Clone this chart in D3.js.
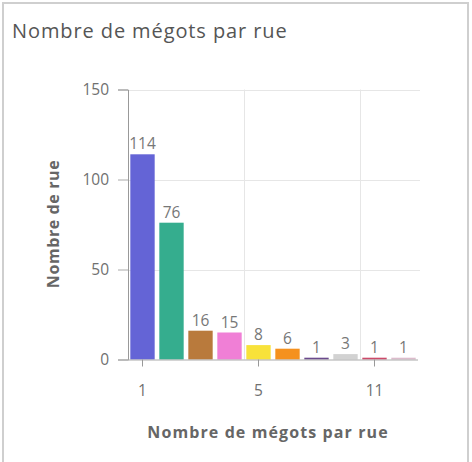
<!DOCTYPE html>
<html>
<head>
<meta charset="utf-8">
<script src="https://cdn.jsdelivr.net/npm/d3@7"></script>
<style>
  html, body { margin: 0; padding: 0; background: #fff; }
  svg { display: block; font-family: "Open Sans", sans-serif; }
</style>
</head>
<body>
<svg id="chart"></svg>
<script>
// valeurs
const categories = ['1', '2', '3', '4', '5', '6', '7', '8', '11', '12'];
const counts = [114, 76, 16, 15, 8, 6, 1, 3, 1, 1];
const barColors = ['#6464d6', '#35ad8e', '#b97a3c', '#f07fd6', '#f8e23a', '#f5911e', '#6b4a8c', '#d2d2d2', '#cc4a6a', '#dcbccc'];
const xTickLabels = ['1', '5', '11'];
const yTicks = [0, 50, 100, 150];

const width = 472, height = 462;
const margin = {left: 128, right: 54, top: 89.5, bottom: 102.5};
const font = '"Open Sans", sans-serif';

const svg = d3.select('#chart')
    .attr('width', width)
    .attr('height', height);

// cadre
svg.append('rect')
    .attr('x', 3).attr('y', 3)
    .attr('width', 465).attr('height', 462)
    .attr('fill', 'none')
    .attr('stroke', '#cfcfcf')
    .attr('stroke-width', 2);

svg.append('text')
    .attr('x', 12).attr('y', 38)
    .attr('font-size', 20)
    .attr('letter-spacing', 0.9)
    .attr('fill', '#555')
    .text('Nombre de mégots par rue');

const data = categories.map((c, i) => ({cat: c, value: counts[i], color: barColors[i]}));

const x = d3.scaleBand()
    .domain(categories)
    .range([margin.left, width - margin.right])
    .paddingInner(0.16)
    .paddingOuter(0.08);

const y = d3.scaleLinear()
    .domain([0, 150])
    .range([height - margin.bottom, margin.top]);

const grid = svg.append('g').attr('stroke', '#e6e6e6').attr('stroke-width', 1);
grid.selectAll('line.h')
    .data(yTicks.filter(d => d > 0))
    .join('line')
    .attr('class', 'h')
    .attr('x1', margin.left).attr('x2', width - margin.right + 2)
    .attr('y1', d => Math.round(y(d)) + 0.5).attr('y2', d => Math.round(y(d)) + 0.5);
grid.selectAll('line.v')
    .data(xTickLabels.slice(1))
    .join('line')
    .attr('class', 'v')
    .attr('x1', d => Math.round(x(d) - x.step() * x.paddingInner() / 2) + 0.5)
    .attr('x2', d => Math.round(x(d) - x.step() * x.paddingInner() / 2) + 0.5)
    .attr('y1', y(150)).attr('y2', y(0));

// axe Y
const yAxis = svg.append('g')
    .attr('transform', `translate(${margin.left},0)`)
    .call(d3.axisLeft(y).tickValues(yTicks).tickSize(10).tickPadding(9));
yAxis.select('.domain').attr('stroke', '#999');
yAxis.selectAll('.tick line').attr('stroke', '#aaa');
yAxis.selectAll('.tick text').attr('fill', '#707070').attr('font-size', 15.5)
    .attr('font-family', font);

// barres
svg.append('g')
    .selectAll('rect')
    .data(data)
    .join('rect')
    .attr('x', d => x(d.cat))
    .attr('width', x.bandwidth())
    .attr('y', d => y(d.value))
    .attr('height', d => y(0) - y(d.value))
    .attr('fill', d => d.color);

svg.append('g')
    .selectAll('text')
    .data(data)
    .join('text')
    .attr('x', d => x(d.cat) + x.bandwidth() / 2)
    .attr('y', d => y(d.value) - 5)
    .attr('text-anchor', 'middle')
    .attr('font-size', 15.5)
    .attr('fill', '#777')
    .text(d => d.value);

// axe X
const xAxis = svg.append('g')
    .attr('transform', `translate(0,${y(0)})`)
    .call(d3.axisBottom(x).tickValues(xTickLabels).tickSize(7).tickPadding(18));
xAxis.select('.domain').attr('stroke', '#aaa').attr('d', `M${margin.left},0.5H${width - margin.right}`);
xAxis.selectAll('.tick line').attr('stroke', '#999');
xAxis.selectAll('.tick text').attr('fill', '#707070').attr('font-size', 15.5)
    .attr('font-family', font);

// titres des axes
svg.append('text')
    .attr('x', 268).attr('y', 438)
    .attr('text-anchor', 'middle')
    .attr('font-size', 16)
    .attr('letter-spacing', 1.1)
    .attr('font-weight', 'bold')
    .attr('fill', '#666')
    .text('Nombre de mégots par rue');

svg.append('text')
    .attr('transform', 'translate(59,224) rotate(-90)')
    .attr('text-anchor', 'middle')
    .attr('font-size', 16)
    .attr('letter-spacing', 0.6)
    .attr('font-weight', 'bold')
    .attr('fill', '#666')
    .text('Nombre de rue');
</script>
</body>
</html>
